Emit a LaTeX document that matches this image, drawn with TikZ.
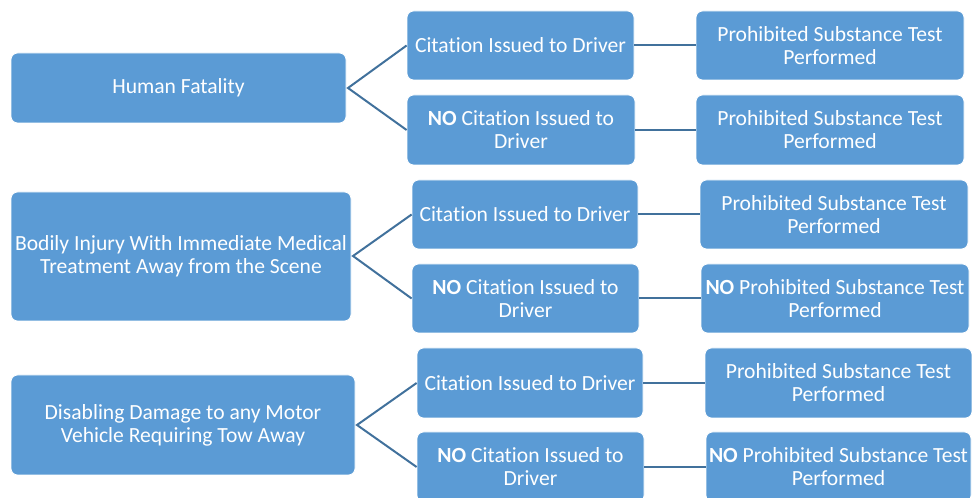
\documentclass[tikz,border=0pt]{standalone}
\usepackage{fontspec}
\setmainfont[Ligatures={NoCommon}]{Carlito}
\definecolor{boxblue}{HTML}{5B9BD5}
\definecolor{linkblue}{HTML}{41719C}
\tikzset{
  box/.style={draw=white, line width=0.6pt, fill=boxblue, rounded corners=5pt, inner sep=0pt,
    align=center, text=white, font=\fontsize{16.2}{17.3}\selectfont},
  link/.style={draw=linkblue, line width=1.5pt}
}
\newcommand\mybox[6]{\node[box, minimum width={(#4-#2)*0.75pt}, minimum height={(#5-#3)*0.75pt}]
  (#1) at ({(#2+#4)/2},{(#3+#5)/2}) {#6};}
\begin{document}
\begin{tikzpicture}[x=0.75pt,y=-0.75pt]
\useasboundingbox (0,0) rectangle (972,498);
\clip (0,0) rectangle (972,498);
% group 1
\mybox{hf}{11}{53}{346}{123}{Human Fatality}
\mybox{c1a}{407}{11}{634}{80}{Citation Issued to Driver}
\mybox{c1b}{407}{95}{635}{165}{\textbf{NO} Citation Issued to\\Driver}
\mybox{p1a}{696}{11}{964}{80}{Prohibited Substance Test\\Performed}
\mybox{p1b}{696}{95}{964}{165}{Prohibited Substance Test\\Performed}
% group 2
\mybox{bi}{11}{192}{351}{321}{Bodily Injury With Immediate Medical\\Treatment Away from the Scene}
\mybox{c2a}{412}{180}{638}{249}{Citation Issued to Driver}
\mybox{c2b}{412}{264}{639}{333}{\textbf{NO} Citation Issued to\\Driver}
\mybox{p2a}{700}{180}{968}{249}{Prohibited Substance Test\\Performed}
\mybox{p2b}{701}{264}{969}{333}{\textbf{NO} Prohibited Substance Test\\Performed}
% group 3
\mybox{dd}{11}{375}{355}{475}{Disabling Damage to any Motor\\Vehicle Requiring Tow Away}
\mybox{c3a}{417}{348}{643}{418}{Citation Issued to Driver}
\mybox{c3b}{417}{432}{644}{502}{\textbf{NO} Citation Issued to\\Driver}
\mybox{p3a}{705}{348}{972}{418}{Prohibited Substance Test\\Performed}
\mybox{p3b}{706}{432}{971}{502}{\textbf{NO} Prohibited Substance Test\\Performed}
% connectors
\coordinate (v1) at (348,88);
\coordinate (v2) at (353,256);
\coordinate (v3) at (357,425);
\draw[link] (c1a.west) -- (v1) -- (c1b.west);
\draw[link] (c2a.west) -- (v2) -- (c2b.west);
\draw[link] (c3a.west) -- (v3) -- (c3b.west);
\draw[link] (c1a.east) -- (p1a.west);
\draw[link] (c1b.east) -- (p1b.west);
\draw[link] (c2a.east) -- (p2a.west);
\draw[link] (c2b.east) -- (p2b.west);
\draw[link] (c3a.east) -- (p3a.west);
\draw[link] (c3b.east) -- (p3b.west);
\end{tikzpicture}
\end{document}
